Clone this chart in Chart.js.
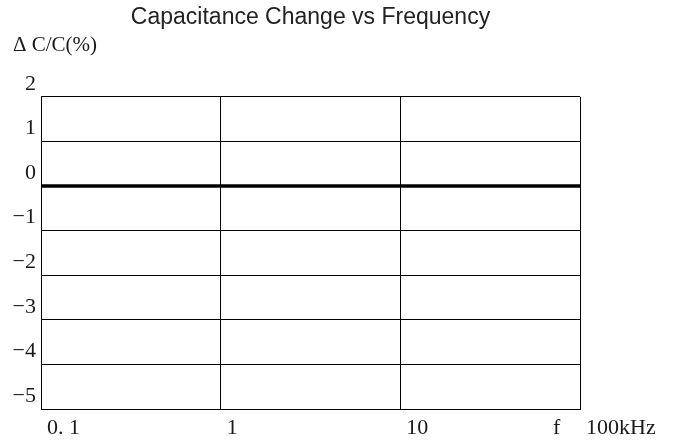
<!DOCTYPE html>
<html>
<head>
<meta charset="utf-8">
<script src="https://cdn.jsdelivr.net/npm/chart.js@4.4.1/dist/chart.umd.min.js"></script>
<style>
  body { margin: 0; background: #fff; }
  canvas { display: block; }
</style>
</head>
<body>
<canvas id="myChart" width="674" height="442"></canvas>
<script>
// data
const freqs = [0.1, 1, 10, 100];
const capChange = [0, 0, 0, 0];
const xTicks = [0.1, 1, 10, 100];
const xTickLabels = ['0. 1', '1', '10', '100kHz'];
const yTicks = [-5, -4, -3, -2, -1, 0, 1, 2];
const yTickLabels = ['\u22125', '\u22124', '\u22123', '\u22122', '\u22121', '0', '1', '2'];

const serif = "'Liberation Serif', 'DejaVu Serif', serif";

// the lone "f" in front of 100kHz
const fLabel = {
  id: 'fLabel',
  afterDraw(chart) {
    const c = chart.ctx;
    const xs = chart.scales.x;
    c.save();
    c.font = '22px ' + serif;
    c.fillStyle = '#1a1a1a';
    c.textAlign = 'left';
    c.textBaseline = 'middle';
    c.fillText('f', xs.getPixelForValue(100) - 27, 428);
    c.restore();
  }
};

const ctx = document.getElementById('myChart');

var graphData = {
  type: 'line',
  data: {
    labels: freqs,
    datasets: [{
      data: freqs.map((f, i) => ({x: f, y: capChange[i]})),
      borderColor: '#000',
      borderWidth: 3.5,
      pointRadius: 0,
      fill: false
    }]
  },
  options: {
    responsive: false,
    animation: false,
    layout: { padding: { left: 13, right: 94, top: 0, bottom: 0 } },
    plugins: {
      legend: { display: false },
      tooltip: { enabled: false },
      title: {
        display: true,
        fullSize: false,
        text: 'Capacitance Change vs Frequency',
        color: '#222',
        font: { family: "'Liberation Sans', Arial, sans-serif", size: 23, weight: 'normal' },
        padding: { top: 4, bottom: 1 }
      },
      subtitle: {
        display: true,
        align: 'start',
        text: '\u0394 C/C(%)',
        color: '#1a1a1a',
        font: { family: serif, size: 21 },
        padding: { top: 0, bottom: 39 }
      }
    },
    scales: {
      x: {
        type: 'logarithmic',
        min: 0.1,
        max: 100,
        afterBuildTicks: s => { s.ticks = xTicks.map(v => ({value: v})); },
        afterFit: s => { s.height = 33; },
        grid: { color: '#000', lineWidth: 1, drawTicks: false },
        border: { color: '#000', width: 1 },
        ticks: {
          align: 'start',
          labelOffset: 6,
          padding: 6,
          maxRotation: 0,
          color: '#1a1a1a',
          font: { family: serif, size: 22 },
          callback: (v, i) => xTickLabels[i]
        }
      },
      y: {
        min: -5,
        max: 2,
        afterBuildTicks: s => { s.ticks = yTicks.map(v => ({value: v})); },
        afterFit: s => { s.width = 28; },
        grid: { color: '#000', lineWidth: 1, drawTicks: false },
        border: { color: '#000', width: 1 },
        ticks: {
          labelOffset: -13,
          padding: 5,
          color: '#1a1a1a',
          font: { family: serif, size: 22 },
          callback: (v, i) => yTickLabels[i]
        }
      }
    }
  },
  plugins: [fLabel]
};

var myChart = new Chart(ctx, graphData);
</script>
</body>
</html>
